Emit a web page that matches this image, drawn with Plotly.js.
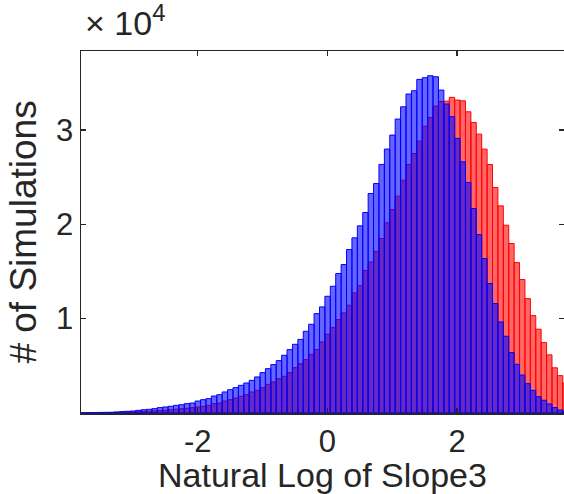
<!DOCTYPE html>
<html>
<head>
<meta charset="utf-8">
<script src="https://cdn.plot.ly/plotly-3.0.1.min.js"></script>
<style>html,body{margin:0;padding:0;background:#fff;}#chart{width:564px;height:494px;}</style>
</head>
<body>
<div id="chart"></div>
<script>
// Histogram bins: first bin centre and bin width (natural log of slope3)
const binStart = -3.8328;
const binWidth = 0.0834;

// Counts per bin (blue series), left to right
const blueCounts = [
  20, 30, 40, 50, 60, 70, 80, 110, 150, 180,
  210, 280, 350, 390, 460, 570, 640, 710, 810, 880,
  990, 1060, 1270, 1410, 1520, 1800, 1940, 2230, 2470, 2690,
  2930, 3180, 3460, 3820, 4280, 4700, 5130, 5550, 6120, 6720,
  7280, 7800, 8660, 9400, 10530, 11240, 12370, 13430, 14780, 15730,
  17320, 18560, 19830, 21250, 23260, 24320, 26340, 27970, 29450, 31150,
  32450, 33800, 34150, 35350, 35530, 35740, 35630, 34220, 32740, 31400,
  29100, 26620, 24430, 21670, 18910, 16370, 13720, 11600, 9650, 8130,
  6400, 5160, 4020, 3110, 2400, 1730, 1350, 960, 580, 320,
  180
];

// Counts per bin (red series), left to right
const redCounts = [
  10, 10, 20, 20, 30, 40, 50, 60, 70, 90,
  110, 130, 160, 190, 220, 260, 300, 350, 400, 450,
  500, 570, 640, 710, 810, 990, 1060, 1270, 1410, 1590,
  1770, 1940, 2230, 2400, 2690, 3040, 3290, 3640, 3890, 4280,
  4810, 5230, 5660, 6220, 6720, 7530, 8340, 9050, 9900, 10610,
  11420, 12730, 13500, 15100, 16010, 17140, 18490, 20150, 21560, 22980,
  24670, 26330, 27500, 28810, 30400, 31320, 32520, 33000, 33050, 33450,
  33160, 33080, 31920, 30780, 29550, 27960, 26330, 23900, 21950, 19900,
  17960, 15940, 14140, 12120, 10320, 8880, 7460, 6160, 4790, 3960,
  3170
];

const yTickVals = [10000, 20000, 30000];
const yTickText = ['1', '2', '3'];
const xTickVals = [-2, 0, 2];
const xTickText = ['-2', '0', '2'];

const axisColor = '#262626';
const fontFam = '"Liberation Sans", Arial, Helvetica, sans-serif';

const traces = [
  {
    type: 'bar', x0: binStart, dx: binWidth, y: redCounts,
    marker: {color: 'rgba(255,0,0,0.6)', line: {color: 'rgb(255,0,0)', width: 1}},
    hoverinfo: 'skip'
  },
  {
    type: 'bar', x0: binStart, dx: binWidth, y: blueCounts,
    marker: {color: 'rgba(0,0,255,0.6)', line: {color: 'rgb(0,0,255)', width: 1}},
    hoverinfo: 'skip'
  }
];

const layout = {
  width: 564, height: 494,
  margin: {l: 81, r: 0, t: 51, b: 81},
  paper_bgcolor: '#fff', plot_bgcolor: '#fff',
  barmode: 'overlay', bargap: 0,
  showlegend: false,
  font: {family: fontFam, color: axisColor, size: 31},
  xaxis: {
    range: [-3.80, 3.65],
    tickvals: xTickVals, ticktext: xTickText,
    ticks: 'inside', ticklen: 5, tickwidth: 1.5, tickcolor: axisColor,
    showline: true, linecolor: axisColor, linewidth: 1.5, mirror: 'ticks',
    showgrid: false, zeroline: false,
    tickfont: {size: 31, family: fontFam, color: axisColor},
    title: {text: 'Natural Log of Slope3', font: {size: 34, family: fontFam, color: axisColor}, standoff: 6}
  },
  yaxis: {
    range: [0, 38360],
    tickvals: yTickVals, ticktext: yTickText,
    ticks: 'inside', ticklen: 5, tickwidth: 1.5, tickcolor: axisColor,
    showline: true, linecolor: axisColor, linewidth: 1.5, mirror: 'ticks',
    showgrid: false, zeroline: false,
    tickfont: {size: 31, family: fontFam, color: axisColor},
    title: {text: '# of Simulations', font: {size: 37, family: fontFam, color: axisColor}, standoff: 8}
  },
  annotations: [{
    xref: 'paper', yref: 'paper', x: 0.004, y: 1.018,
    xanchor: 'left', yanchor: 'bottom', showarrow: false,
    text: '× 10<sup>4</sup>',
    font: {size: 34, family: fontFam, color: axisColor}
  }]
};

Plotly.newPlot('chart', traces, layout, {displayModeBar: false, staticPlot: true});
</script>
</body>
</html>
